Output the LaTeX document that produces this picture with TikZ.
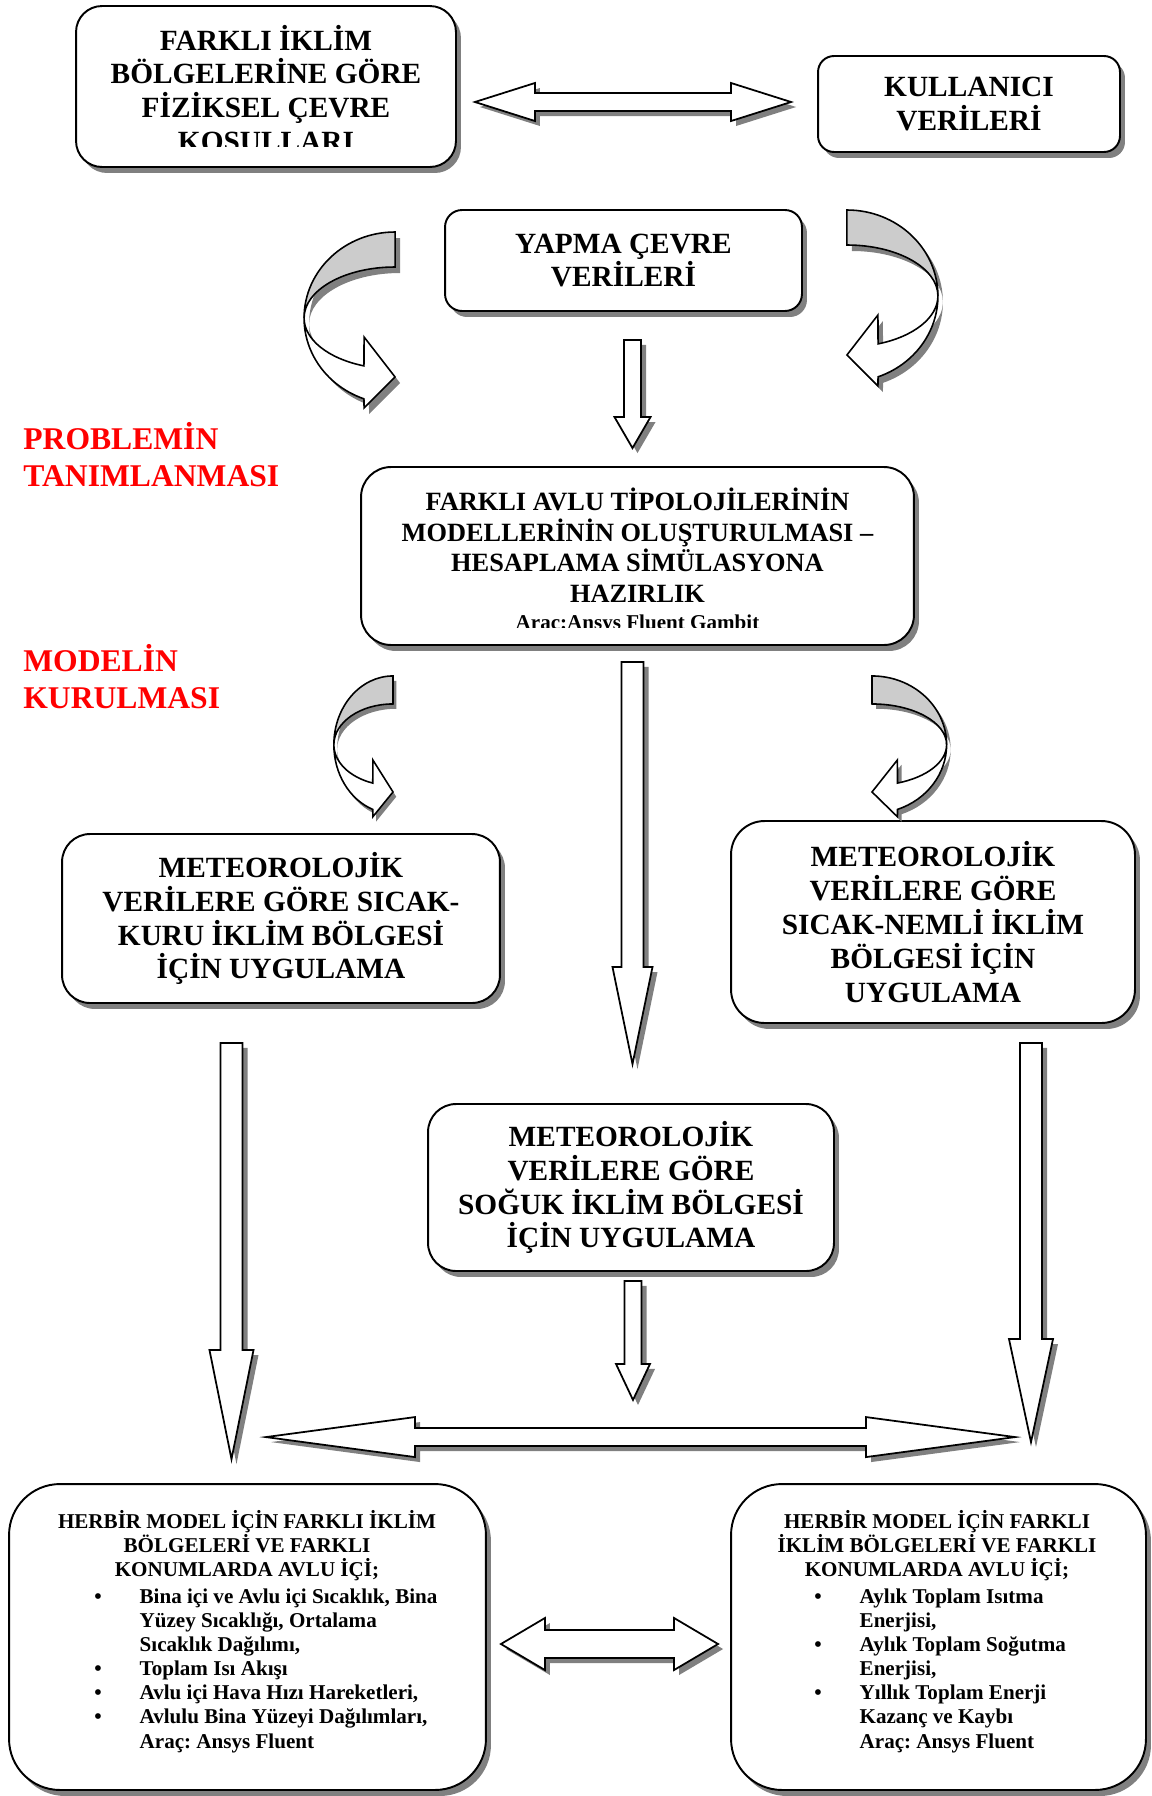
\documentclass[tikz,border=0pt]{standalone}
\usepackage{fontspec}
\setmainfont{Liberation Serif}
\usetikzlibrary{shadows, calc, positioning}
\definecolor{shadowgray}{RGB}{128, 128, 128}
\definecolor{bandgray}{RGB}{204, 204, 204}
\definecolor{titlered}{RGB}{255, 0, 0}

\newcommand{\pxu}{0.02cm}
\newcommand{\itm}{\makebox[25.8pt][l]{\textbullet}}
\newcommand{\cont}{\hspace*{25.8pt}}

% down block arrow: start, tip, shaft half, head half, head length
\newcommand{\blockdown}[5]{%
  \path[blockarrow] let \p1=(#1), \p2=(#2) in
    (\x1-#3*\pxu,\y1) -- (\x1+#3*\pxu,\y1) -- (\x1+#3*\pxu,\y2+#5*\pxu)
    -- (\x1+#4*\pxu,\y2+#5*\pxu) -- (\x1,\y2) -- (\x1-#4*\pxu,\y2+#5*\pxu)
    -- (\x1-#3*\pxu,\y2+#5*\pxu) -- cycle;}
% double block arrow: left tip, right tip, shaft half, head half, head length
\newcommand{\blockboth}[5]{%
  \path[blockarrow] let \p1=(#1), \p2=(#2) in
    (\x1,\y1) -- (\x1+#5*\pxu,\y1+#4*\pxu) -- (\x1+#5*\pxu,\y1+#3*\pxu)
    -- (\x2-#5*\pxu,\y1+#3*\pxu) -- (\x2-#5*\pxu,\y1+#4*\pxu) -- (\x2,\y1)
    -- (\x2-#5*\pxu,\y1-#4*\pxu) -- (\x2-#5*\pxu,\y1-#3*\pxu)
    -- (\x1+#5*\pxu,\y1-#3*\pxu) -- (\x1+#5*\pxu,\y1-#4*\pxu) -- cycle;}

\begin{document}
\frenchspacing
\begin{tikzpicture}[
        x=0.02cm, y=-0.02cm,
        panel/.style = {draw, line width=1.1pt, fill=white, rounded corners=#1, align=center,
            font=\fontsize{16.7}{19.3}\selectfont\bfseries,
            drop shadow={shadow xshift=0.1cm, shadow yshift=-0.12cm, fill=shadowgray, opacity=1}},
        blockarrow/.style = {draw, line width=1pt, fill=white,
            drop shadow={shadow xshift=0.1cm, shadow yshift=-0.1cm, fill=shadowgray, opacity=1}},
        sidelabel/.style = {anchor=north west, inner sep=0pt, align=left, text=titlered,
            font=\fontsize{18}{21}\selectfont\bfseries},
        listtext/.style = {inner sep=0pt, font=\fontsize{12}{13.7}\selectfont\bfseries},
        pics/bendarrow/.style = {code={
            \begin{scope}[shift={(#1*5,6)}]
              \fill[shadowgray] (0,0) arc[start angle=-90, end angle=-180, x radius=91, y radius=86]
                arc[start angle=180, end angle=270, x radius=91, y radius=51] -- cycle;
              \fill[shadowgray] (-91,86) arc[start angle=180, end angle=110, x radius=91, y radius=86]
                -- (-31,176) -- (0,145) -- (-31,105) -- (-31.12,133.9)
                arc[start angle=110, end angle=180, x radius=91, y radius=51] -- cycle;
            \end{scope}
            \filldraw[fill=bandgray, line width=0.9pt] (0,0)
              arc[start angle=-90, end angle=-180, x radius=91, y radius=86]
              arc[start angle=180, end angle=270, x radius=91, y radius=51] -- cycle;
            \filldraw[fill=white, line width=0.9pt] (-91,86)
              arc[start angle=180, end angle=110, x radius=91, y radius=86]
              -- (-31,176) -- (0,145) -- (-31,105) -- (-31.12,133.9)
              arc[start angle=110, end angle=180, x radius=91, y radius=51] -- cycle;
        }}
    ]
        \path[use as bounding box, fill=white] (0,0) rectangle (1152,1796);

        % Nodes
        \node[panel=0.52cm, minimum width=7.6cm, minimum height=3.22cm] (iklim) at (266,86.5) {};
        \begin{scope}
            \clip (76,6) rectangle (456,146);
            \node[inner sep=0pt, anchor=north, align=center, font=\fontsize{16.7}{19.3}\selectfont\bfseries] (iklimtext) at (266,24.5) {FARKLI İKLİM\\BÖLGELERİNE GÖRE\\FİZİKSEL ÇEVRE\\KOSULLARI};
        \end{scope}
        \node[panel=0.32cm, minimum width=6.04cm, minimum height=1.92cm] (kullanici) at (969,104) {KULLANICI\\VERİLERİ};
        \node[panel=0.34cm, minimum width=7.14cm, minimum height=2.02cm] (yapma) at (623.5,260.5) {YAPMA ÇEVRE\\VERİLERİ};
        \node[panel=0.6cm, minimum width=11.06cm, minimum height=3.56cm] (hazirlik) at (637.5,556) {};
        \begin{scope}
            \clip (361,467) rectangle (914,627);
            \node[inner sep=0pt, anchor=north, align=center, font=\fontsize{15}{17.4}\selectfont\bfseries] (hazirliktext) at (637.5,487.5) {FARKLI AVLU TİPOLOJİLERİNİN\\MODELLERİNİN OLUŞTURULMASI –\\HESAPLAMA SİMÜLASYONA\\HAZIRLIK\\[-1.7pt]{\fontsize{12}{14}\selectfont Arac:Ansys Fluent Gambit}};
        \end{scope}
        \node[panel=0.56cm, minimum width=8.76cm, minimum height=3.38cm] (sicakkuru) at (281,918.5) {METEOROLOJİK\\VERİLERE GÖRE SICAK-\\KURU İKLİM BÖLGESİ\\İÇİN UYGULAMA};
        \node[panel=0.67cm, minimum width=8.08cm, minimum height=4.04cm] (sicaknemli) at (933,922) {METEOROLOJİK\\VERİLERE GÖRE\\SICAK-NEMLİ İKLİM\\BÖLGESİ İÇİN\\UYGULAMA};
        \node[panel=0.56cm, minimum width=8.12cm, minimum height=3.34cm] (soguk) at (631,1187.5) {METEOROLOJİK\\VERİLERE GÖRE\\SOĞUK İKLİM BÖLGESİ\\İÇİN UYGULAMA};
        \node[panel=1.02cm, minimum width=9.54cm, minimum height=6.12cm] (sonucA) at (247.5,1637) {};
        \node[panel=1.02cm, minimum width=8.3cm, minimum height=6.12cm] (sonucB) at (938.5,1637) {};

        \node[listtext, anchor=north, align=center] (baslikA) at (247,1509.7) {HERBİR MODEL İÇİN FARKLI İKLİM\\BÖLGELERİ VE FARKLI\\KONUMLARDA AVLU İÇİ;};
        \node[listtext, anchor=north west, align=left] (listeA) at (94,1588.6) {\itm Bina içi ve Avlu içi Sıcaklık, Bina\\\cont Yüzey Sıcaklığı, Ortalama\\\cont Sıcaklık Dağılımı,\\\itm Toplam Isı Akışı\\\itm Avlu içi Hava Hızı Hareketleri,\\\itm Avlulu Bina Yüzeyi Dağılımları,\\\cont Araç: Ansys Fluent};
        \node[listtext, anchor=north, align=center] (baslikB) at (937,1509.7) {HERBİR MODEL İÇİN FARKLI\\İKLİM BÖLGELERİ VE FARKLI\\KONUMLARDA AVLU İÇİ;};
        \node[listtext, anchor=north west, align=left] (listeB) at (814,1588.6) {\itm Aylık Toplam Isıtma\\\cont Enerjisi,\\\itm Aylık Toplam Soğutma\\\cont Enerjisi,\\\itm Yıllık Toplam Enerji\\\cont Kazanç ve Kaybı\\\cont Araç: Ansys Fluent};

        \node[sidelabel] (problem) at (23,422.5) {PROBLEMİN\\TANIMLANMASI};
        \node[sidelabel] (model) at (23,644.5) {MODELİN\\KURULMASI};

        % Connectors
        \coordinate (ab1) at ($(iklim.east)+(18,15.5)$);
        \coordinate (ab2) at ($(kullanici.west)+(-26,-2)$);
        \blockboth{ab1}{ab2}{9}{19}{60}

        \coordinate (cd1) at ($(yapma.south)+(9,28)$);
        \coordinate (cd2) at ($(hazirlik.north)+(0,-18)$);
        \blockdown{cd1}{cd2}{8.5}{18}{31}

        \coordinate (dg1) at ($(hazirlik.south)+(-5,16)$);
        \coordinate (dg2) at ($(soguk.north)+(0,-39)$);
        \blockdown{dg1}{dg2}{11}{20}{97}

        \coordinate (eh1) at ($(sicakkuru.south)+(-49.5,39)$);
        \coordinate (eh2) at ($(sonucA.north)+(0,-24)$);
        \blockdown{eh1}{eh2}{11}{22}{109}

        \coordinate (fi1) at ($(sicaknemli.south)+(98,19)$);
        \coordinate (fi2) at ($(sonucB.north)+(0,-41)$);
        \blockdown{fi1}{fi2}{11}{22}{103}

        \coordinate (gc1) at ($(soguk.south)+(2,9)$);
        \coordinate (gc2) at ($(soguk.south)+(2,128)$);
        \blockdown{gc1}{gc2}{8.5}{17}{36}

        \coordinate (yatay1) at ($(sonucA.north)+(18.5,-46)$);
        \coordinate (yatay2) at ($(sonucB.north)+(76.5,-46)$);
        \blockboth{yatay1}{yatay2}{9}{20}{149}

        \coordinate (alt1) at ($(sonucA.east)+(14,7)$);
        \coordinate (alt2) at ($(sonucB.west)+(-12,7)$);
        \blockboth{alt1}{alt2}{14}{26}{44}

        % Curved arrows
        \pic at ($(yapma.west)+(-49,-28.5)$) {bendarrow=1};
        \pic[xscale=-1] at ($(yapma.east)+(44,-50.5)$) {bendarrow=-1};
        \pic[xscale=0.65, yscale=0.8] at ($(hazirlik.south)+(-244.5,30)$) {bendarrow=1};
        \pic[xscale=-0.82, yscale=0.8] at ($(hazirlik.south)+(234.5,30)$) {bendarrow=-1};
    \end{tikzpicture}
\end{document}
